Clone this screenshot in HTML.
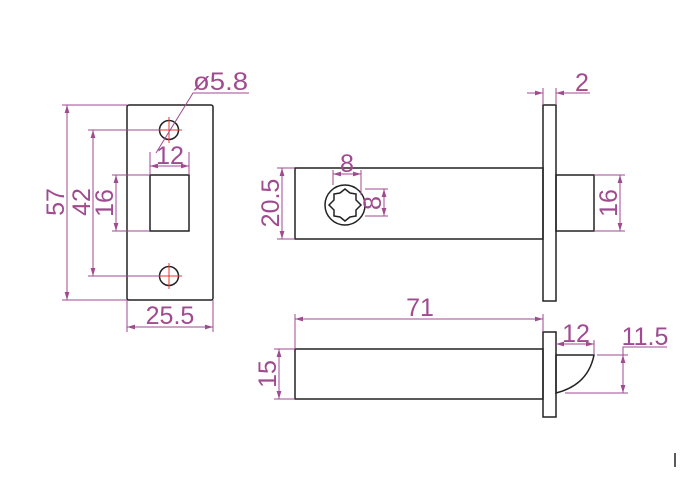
<!DOCTYPE html>
<html><head><style>
html,body{margin:0;padding:0;background:#fff;width:700px;height:500px;overflow:hidden}
svg{display:block}
text{font-family:"Liberation Sans",sans-serif;fill:#a04a90;font-size:25px}
</style></head><body>
<svg width="700" height="500" viewBox="0 0 700 500" xmlns="http://www.w3.org/2000/svg">
<defs>
<marker id="a" viewBox="0 0 10 6" refX="10" refY="3" markerWidth="8" markerHeight="5" orient="auto-start-reverse"><path d="M0,0 L10,3 L0,6 Z" fill="#a04a90"/></marker>
</defs>
<g stroke="#222" stroke-width="1.5" fill="none">
<rect x="127" y="105" width="86" height="195" rx="2"/>
<rect x="150" y="175" width="39" height="56"/>
<circle cx="169" cy="130" r="9.5"/>
<circle cx="169" cy="276" r="9.5"/>
<rect x="295" y="168" width="248" height="71"/>
<rect x="543" y="105" width="13" height="196"/>
<rect x="556" y="175" width="38" height="56"/>
<circle cx="345" cy="205" r="20"/>
<polygon points="345,189 350,193 356,194 356,200 361,205 356,210 356,216 350,217 345,221 340,217 334,216 334,210 329,205 334,200 334,194 340,193"/>
<rect x="295" y="349" width="248" height="50"/>
<rect x="543" y="332" width="13" height="85"/>
<path d="M556,355 L594,355 Q588,385 556,393 Z"/>
</g>
<line x1="675" y1="453" x2="675" y2="467" stroke="#222" stroke-width="1.5"/>
<g stroke="#e33" stroke-width="1">
<line x1="169" y1="117" x2="169" y2="143"/><line x1="156" y1="130" x2="182" y2="130"/>
<line x1="169" y1="263" x2="169" y2="289"/><line x1="156" y1="276" x2="182" y2="276"/>
</g>
<g stroke="#a04a90" stroke-width="1" fill="none">
<line x1="62" y1="105" x2="127" y2="105"/><line x1="62" y1="300" x2="127" y2="300"/>
<line x1="67" y1="105" x2="67" y2="300" marker-start="url(#a)" marker-end="url(#a)"/>
<line x1="88" y1="130" x2="160" y2="130"/><line x1="88" y1="276" x2="160" y2="276"/>
<line x1="93" y1="130" x2="93" y2="276" marker-start="url(#a)" marker-end="url(#a)"/>
<line x1="112" y1="175" x2="150" y2="175"/><line x1="112" y1="231" x2="150" y2="231"/>
<line x1="116" y1="175" x2="116" y2="231" marker-start="url(#a)" marker-end="url(#a)"/>
<line x1="127" y1="300" x2="127" y2="332"/><line x1="213" y1="300" x2="213" y2="332"/>
<line x1="127" y1="327" x2="213" y2="327" marker-start="url(#a)" marker-end="url(#a)"/>
<line x1="150" y1="152" x2="150" y2="175"/><line x1="189" y1="152" x2="189" y2="175"/>
<line x1="150" y1="166" x2="189" y2="166" marker-start="url(#a)" marker-end="url(#a)"/>
<polyline points="249,93 193,93 156,153"/>
<line x1="277" y1="168" x2="295" y2="168"/><line x1="277" y1="239" x2="295" y2="239"/>
<line x1="282" y1="168" x2="282" y2="239" marker-start="url(#a)" marker-end="url(#a)"/>
<line x1="594" y1="175" x2="625" y2="175"/><line x1="594" y1="231" x2="625" y2="231"/>
<line x1="620" y1="175" x2="620" y2="231" marker-start="url(#a)" marker-end="url(#a)"/>
<line x1="543" y1="88" x2="543" y2="105"/><line x1="556" y1="88" x2="556" y2="105"/>
<line x1="527" y1="93" x2="543" y2="93" marker-end="url(#a)"/>
<line x1="590" y1="93" x2="556" y2="93" marker-end="url(#a)"/>
<line x1="333" y1="170" x2="333" y2="185"/><line x1="361" y1="170" x2="361" y2="195"/>
<line x1="333" y1="174" x2="361" y2="174" marker-start="url(#a)" marker-end="url(#a)"/>
<line x1="365" y1="189" x2="388" y2="189"/><line x1="365" y1="216" x2="388" y2="216"/>
<line x1="384" y1="189" x2="384" y2="216" marker-start="url(#a)" marker-end="url(#a)"/>
<line x1="295" y1="314" x2="295" y2="349"/><line x1="543" y1="314" x2="543" y2="332"/>
<line x1="295" y1="319" x2="543" y2="319" marker-start="url(#a)" marker-end="url(#a)"/>
<line x1="594" y1="340" x2="594" y2="355"/>
<line x1="556" y1="344" x2="594" y2="344" marker-start="url(#a)" marker-end="url(#a)"/>
<line x1="597" y1="355" x2="628" y2="355"/><line x1="565" y1="393" x2="628" y2="393"/>
<line x1="623" y1="355" x2="623" y2="393" marker-start="url(#a)" marker-end="url(#a)"/>
<polyline points="623,355 623,347 667,347"/>
<line x1="274" y1="349" x2="295" y2="349"/><line x1="274" y1="399" x2="295" y2="399"/>
<line x1="279" y1="349" x2="279" y2="399" marker-start="url(#a)" marker-end="url(#a)"/>
</g>
<g>
<text x="193" y="90" textLength="55" lengthAdjust="spacingAndGlyphs">ø5.8</text>
<text x="170" y="324" text-anchor="middle">25.5</text>
<text x="170" y="164" text-anchor="middle">12</text>
<text transform="translate(64,202) rotate(-90)" text-anchor="middle">57</text>
<text transform="translate(90,202) rotate(-90)" text-anchor="middle">42</text>
<text transform="translate(113,203) rotate(-90)" text-anchor="middle">16</text>
<text transform="translate(279,203) rotate(-90)" text-anchor="middle">20.5</text>
<text transform="translate(617,203) rotate(-90)" text-anchor="middle">16</text>
<text x="347" y="172" text-anchor="middle">8</text>
<text transform="translate(381,203) rotate(-90)" text-anchor="middle">8</text>
<text x="582" y="91" text-anchor="middle">2</text>
<text x="420" y="316" text-anchor="middle">71</text>
<text x="576" y="342" text-anchor="middle">12</text>
<text x="645" y="345" text-anchor="middle">11.5</text>
<text transform="translate(276,374) rotate(-90)" text-anchor="middle">15</text>
</g>
</svg>
</body></html>
